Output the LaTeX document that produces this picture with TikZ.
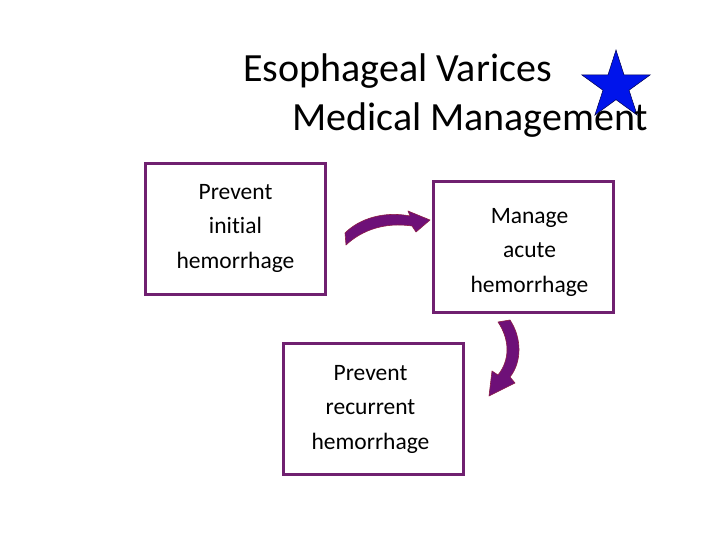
\documentclass[tikz,border=0pt]{standalone}
\usepackage{fontspec}
\setmainfont[Ligatures=NoCommon]{Carlito}
\usetikzlibrary{calc}
\definecolor{boxpurple}{RGB}{112,32,112}
\definecolor{arrowfill}{RGB}{110,16,120}
\definecolor{arrowedge}{RGB}{140,30,70}
\definecolor{starblue}{RGB}{0,20,235}
\begin{document}
\begin{tikzpicture}[x=1pt,y=-1pt,
  box/.style={draw=boxpurple,line width=3pt,fill=white,minimum width=180pt,minimum height=131pt,anchor=north west,inner sep=0pt},
  txt/.style={align=center,font=\fontsize{23.5}{34.5}\selectfont,inner sep=0pt},
  bent/.style={fill=arrowfill,draw=arrowedge,line width=0.6pt,line join=round},
  ttl/.style={font=\fontsize{40}{46}\selectfont,inner sep=0pt,anchor=base west}]
\useasboundingbox (0,0) rectangle (720,540);
\node[coordinate] (sc) at (616,86) {};
\fill[starblue,draw=black!70!blue,line width=0.5pt]
  ($(sc)+(90:-36)$)
  \foreach \i in {1,...,9}{ -- ($(sc)+({90+\i*36}:{-36*(1-0.62*mod(\i,2))})$)} -- cycle;
\node[ttl] (t1) at (243,82) {Esophageal Varices};
\node[ttl] (t2) at (292,131) {Medical Management};
\node[box] (b1) at (144,162) {};
\node[box] (b2) at (432,180) {};
\node[box] (b3) at (282,342) {};
\node[txt] (l1) at ($(b1.center)+(0,-1)$) {Prevent\\initial\\hemorrhage};
\node[txt] (l2) at ($(b2.center)+(6,5)$) {Manage\\acute\\hemorrhage};
\node[txt] (l3) at ($(b3.center)+(-3,0)$) {Prevent\\recurrent\\hemorrhage};
\path[bent] (345,233) .. controls (360,218) and (385,211) .. (410,216)
  -- (408,211) -- (430,220) -- (416,232) -- (412,226)
  .. controls (385,222) and (362,230) .. (346,245) -- cycle;
\path[bent] (498,322) -- (510,320) .. controls (522,338) and (522,362) .. (510,377)
  -- (515,383) -- (489,396) -- (492,371) -- (498,375)
  .. controls (510,360) and (510,340) .. (498,322) -- cycle;
\end{tikzpicture}
\end{document}
